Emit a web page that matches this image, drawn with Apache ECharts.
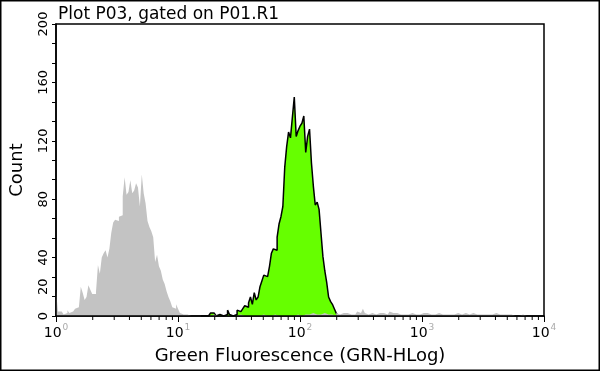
<!DOCTYPE html>
<html>
<head>
<meta charset="utf-8">
<script src="https://cdn.jsdelivr.net/npm/echarts@6/dist/echarts.min.js"></script>
<style>html,body{margin:0;padding:0;background:#fff}#c{width:600px;height:371px}</style>
</head>
<body>
<div id="c"></div>
<script>
// ---- data (channel counts, 64 channels per decade) ----
const CHANNELS_PER_DECADE = 64;
const decadeTicks = [0, 1, 2, 3, 4];
const decadeLabels = ['0', '1', '2', '3', '4'];
const minorFactors = [2, 3, 4, 5, 6, 7, 8, 9];
const yLabelValues = [0, 20, 40, 80, 120, 160, 200];

// control (gray) histogram, channel 0 .. 255
const grayCounts = [
  18, 3, 3, 2, 1, 2, 4, 2, 3, 4, 5, 6, 6, 20, 16, 11, 13, 21, 18, 15,
  15, 17, 35, 29, 40, 43, 45, 40, 46, 57, 64, 66, 65, 68, 69, 82, 95, 83, 85, 93,
  84, 86, 91, 88, 75, 97, 84, 77, 65, 61, 58, 54, 37, 42, 34, 31, 25, 22, 17, 13,
  10, 6, 5, 8, 5, 2, 1, 0, 1, 0, 0, 0, 0, 1, 0, 0, 0, 0, 0, 0,
  0, 0, 1, 0, 0, 0, 0, 0, 0, 1, 0, 0, 0, 0, 0, 0, 1, 0, 0, 0,
  0, 0, 0, 1, 0, 0, 0, 0, 1, 0, 0, 0, 0, 0, 1, 0, 0, 0, 0, 1,
  0, 0, 0, 1, 0, 0, 1, 0, 0, 1, 1, 0, 1, 1, 2, 1, 1, 2, 1, 0,
  2, 1, 1, 2, 1, 1, 0, 2, 1, 1, 2, 1, 2, 1, 1, 2, 1, 2, 3, 2,
  2, 5, 2, 1, 2, 2, 3, 1, 2, 2, 1, 2, 1, 1, 2, 3, 2, 1, 2, 1,
  1, 2, 1, 2, 1, 1, 2, 1, 1, 2, 1, 1, 2, 1, 2, 1, 1, 2, 1, 2,
  2, 1, 1, 2, 1, 1, 1, 2, 1, 1, 2, 1, 1, 1, 2, 1, 1, 1, 2, 1,
  1, 1, 1, 2, 1, 1, 1, 1, 1, 1, 2, 1, 1, 1, 1, 1, 1, 0, 1, 1,
  0, 1, 0, 0, 1, 0, 0, 1, 0, 0, 0, 1, 0, 0, 0, 0
];

// stained sample (green) histogram, starting at channel 76
const greenStart = 76;
const greenCounts = [
  0, 0, 1, 0, 1, 2, 2, 2, 0, 1, 1, 0, 0, 1, 4, 1, 0, 0, 1, 4,
  3, 4, 5, 7, 6, 9, 13, 8, 16, 11, 13, 20, 24, 28, 27, 28, 34, 43, 46, 45,
  54, 63, 68, 75, 102, 116, 126, 122, 136, 150, 123, 127, 130, 132, 137, 112, 123, 128, 105, 89,
  76, 78, 73, 57, 41, 31, 23, 13, 10, 8, 5, 2, 0
];

// ---- build step points (left bin edges) ----
function toSteps(counts, start) {
  const pts = counts.map((c, i) => [(start + i) / CHANNELS_PER_DECADE, c]);
  pts.push([(start + counts.length) / CHANNELS_PER_DECADE, counts[counts.length - 1]]);
  return pts;
}
const minorTickPos = [];
decadeTicks.slice(0, -1).forEach(d => minorFactors.forEach(k => minorTickPos.push([d + Math.log10(k), 0])));

const FONT = 'DejaVu Sans';
const chart = echarts.init(document.getElementById('c'), null, {renderer: 'canvas'});
chart.setOption({
  animation: false,
  backgroundColor: '#fff',
  textStyle: {fontFamily: FONT},
  title: {
    text: 'Plot P03, gated on P01.R1',
    left: 53, top: 1,
    textStyle: {fontFamily: FONT, fontSize: 17, fontWeight: 'normal', color: '#000'}
  },
  grid: {left: 53, right: 56, top: 24, bottom: 55, show: true, borderColor: '#000', borderWidth: 1.5, backgroundColor: 'transparent'},
  xAxis: {
    type: 'value', min: 0, max: 4, interval: 1, z: 10,
    name: 'Green Fluorescence (GRN-HLog)', nameLocation: 'middle', nameGap: 31,
    nameTextStyle: {fontFamily: FONT, fontSize: 18, color: '#000'},
    axisLine: {lineStyle: {color: '#000', width: 1.5}},
    axisTick: {length: 6, lineStyle: {color: '#000', width: 1}},
    splitLine: {show: false},
    axisLabel: {
      margin: 7,
      formatter: v => '{b|10}{s|' + decadeLabels[Math.round(v)] + '}',
      rich: {
        b: {fontFamily: FONT, fontSize: 14, color: '#000', lineHeight: 17, verticalAlign: 'bottom'},
        s: {fontFamily: FONT, fontSize: 9, color: '#aaa', lineHeight: 9, verticalAlign: 'top', padding: [0, 0, 0, 1]}
      }
    }
  },
  yAxis: [{
    type: 'value', min: 0, max: 200, interval: 20, z: 10,
    name: 'Count', nameLocation: 'middle', nameGap: 30, nameRotate: 90,
    nameTextStyle: {fontFamily: FONT, fontSize: 18, color: '#000'},
    axisLine: {show: true, lineStyle: {color: '#000', width: 1.5}},
    axisTick: {show: false},
    splitLine: {show: false},
    axisLabel: {
      rotate: 90, margin: 6, fontFamily: FONT, fontSize: 13, color: '#000',
      formatter: v => yLabelValues.indexOf(v) >= 0 ? String(v) : ''
    }
  }, {
    type: 'value', min: 0, max: 200, interval: 200 / 15, position: 'left', z: 10,
    axisLine: {show: false},
    axisTick: {show: true, length: 4, lineStyle: {color: '#000', width: 1}},
    axisLabel: {show: false},
    splitLine: {show: false}
  }],
  series: [{
    type: 'line', name: 'sample', step: 'end', data: toSteps(greenCounts, greenStart),
    showSymbol: false, symbol: 'none', z: 2,
    lineStyle: {color: '#000', width: 1.5},
    areaStyle: {color: '#66ff00', opacity: 1, origin: 'start'}
  }, {
    type: 'line', name: 'control', step: 'end', data: toSteps(grayCounts, 0),
    showSymbol: false, symbol: 'none', z: 3,
    lineStyle: {width: 0, opacity: 0},
    areaStyle: {color: '#c3c3c3', opacity: 1, origin: 'start'}
  }, {
    type: 'custom', name: 'minorTicks', data: minorTickPos, clip: false, silent: true, z: 11,
    renderItem: (params, api) => {
      const p = api.coord([api.value(0), 0]);
      return {type: 'line', shape: {x1: p[0], y1: p[1], x2: p[0], y2: p[1] + 4}, style: {stroke: '#000', lineWidth: 1}};
    }
  }],
  graphic: [{
    type: 'rect', shape: {x: 0.5, y: 0.5, width: 599, height: 370},
    style: {fill: 'none', stroke: '#000', lineWidth: 2}, silent: true
  }]
});
</script>
</body>
</html>
